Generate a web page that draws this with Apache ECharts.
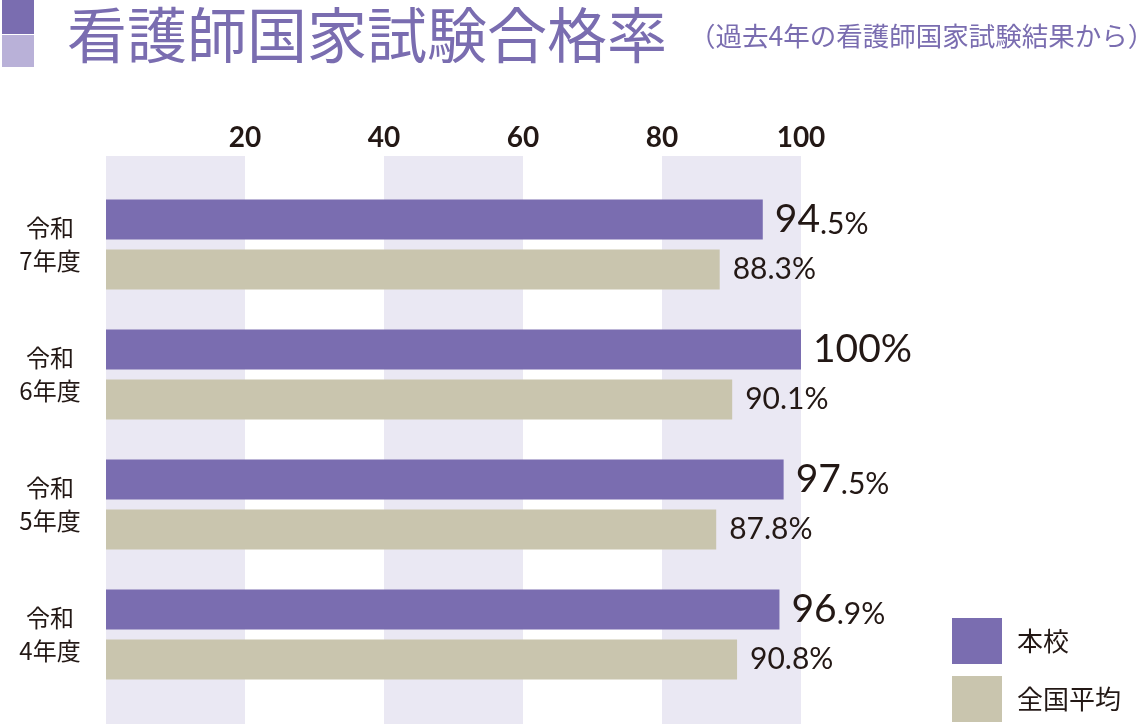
<!DOCTYPE html>
<html>
<head>
<meta charset="utf-8">
<script src="https://cdn.jsdelivr.net/npm/echarts@6/dist/echarts.min.js"></script>
<style>
  html, body { margin: 0; padding: 0; background: #fff; }
  #chart { width: 1140px; height: 724px; }
</style>
</head>
<body>
<div id="chart"></div>
<script>
// 看護師国家試験合格率
var categories = ['令和\n7年度', '令和\n6年度', '令和\n5年度', '令和\n4年度'];
var schoolRates = [94.5, 100, 97.5, 96.9];
var nationalRates = [88.3, 90.1, 87.8, 90.8];
var seriesNames = ['本校', '全国平均'];

var purple = '#7a6db0';
var beige = '#c9c5ae';
var ink = '#231815';
var numFont = 'Lato, "Noto Sans", sans-serif';
var jpFont = '"Noto Sans CJK JP", sans-serif';

var chart = echarts.init(document.getElementById('chart'));

function schoolLabel(p) {
    var s = String(p.value);
    var i = s.indexOf('.');
    if (i < 0) {
        return '{big|' + s + '%}';
    }
    return '{big|' + s.slice(0, i) + '}{small|' + s.slice(i) + '%}';
}

chart.setOption({
    animation: false,
    graphic: [
        { type: 'rect', shape: { x: 2, y: 0, width: 32, height: 34 }, style: { fill: purple } },
        { type: 'rect', shape: { x: 2, y: 35, width: 32, height: 32 }, style: { fill: '#b9b1d8' } },
        {
            type: 'text', x: 67, y: 35,
            style: {
                text: '看護師国家試験合格率', fill: purple,
                font: 'normal 60px ' + jpFont, verticalAlign: 'middle'
            }
        },
        {
            type: 'text', x: 689, y: 36,
            style: {
                text: '（過去4年の看護師国家試験結果から）', fill: purple,
                font: 'normal 26.5px ' + jpFont, verticalAlign: 'middle'
            }
        }
    ],
    legend: {
        orient: 'vertical',
        left: 952,
        top: 618,
        padding: 0,
        itemWidth: 50,
        itemHeight: 46,
        itemGap: 12,
        icon: 'rect',
        data: seriesNames,
        textStyle: { fontFamily: jpFont, fontSize: 26, color: ink, padding: [0, 0, 0, 10] }
    },
    grid: [
        { left: 106, right: 339, top: 156, bottom: 0 },
        { left: 106, right: 339, top: 179.5, height: 520 }
    ],
    xAxis: [
        {
            gridIndex: 0,
            type: 'value',
            position: 'top',
            min: 0,
            max: 100,
            interval: 20,
            axisLine: { show: false },
            axisTick: { show: false },
            splitLine: { show: false },
            splitArea: { show: true, areaStyle: { color: ['#eae8f3', 'rgba(255,255,255,0)'] } },
            axisLabel: {
                margin: 4,
                fontFamily: numFont,
                fontWeight: 'bold',
                fontSize: 28,
                color: ink,
                formatter: function (v) { return v === 0 ? '' : v; }
            }
        },
        { gridIndex: 1, type: 'value', min: 0, max: 100, show: false }
    ],
    yAxis: [
        { gridIndex: 0, type: 'value', show: false },
        {
            gridIndex: 1,
            type: 'category',
            inverse: true,
            data: categories,
            axisLine: { show: false },
            axisTick: { show: false },
            axisLabel: {
                margin: 56,
                align: 'center',
                fontFamily: jpFont,
                fontSize: 24,
                lineHeight: 33,
                color: ink
            }
        }
    ],
    series: [
        {
            name: seriesNames[0],
            type: 'bar',
            xAxisIndex: 1,
            yAxisIndex: 1,
            data: schoolRates,
            barWidth: 40,
            barGap: '25%',
            itemStyle: { color: purple },
            label: {
                show: true,
                position: 'right',
                distance: 12,
                formatter: schoolLabel,
                rich: {
                    big: { fontFamily: numFont, fontSize: 39, color: ink },
                    small: { fontFamily: numFont, fontSize: 30, color: ink, verticalAlign: 'bottom' }
                }
            }
        },
        {
            name: seriesNames[1],
            type: 'bar',
            xAxisIndex: 1,
            yAxisIndex: 1,
            data: nationalRates,
            barWidth: 40,
            barGap: '25%',
            itemStyle: { color: beige },
            label: {
                show: true,
                position: 'right',
                distance: 13,
                fontFamily: numFont,
                fontSize: 30,
                color: ink,
                formatter: '{c}%'
            }
        }
    ]
});
</script>
</body>
</html>
